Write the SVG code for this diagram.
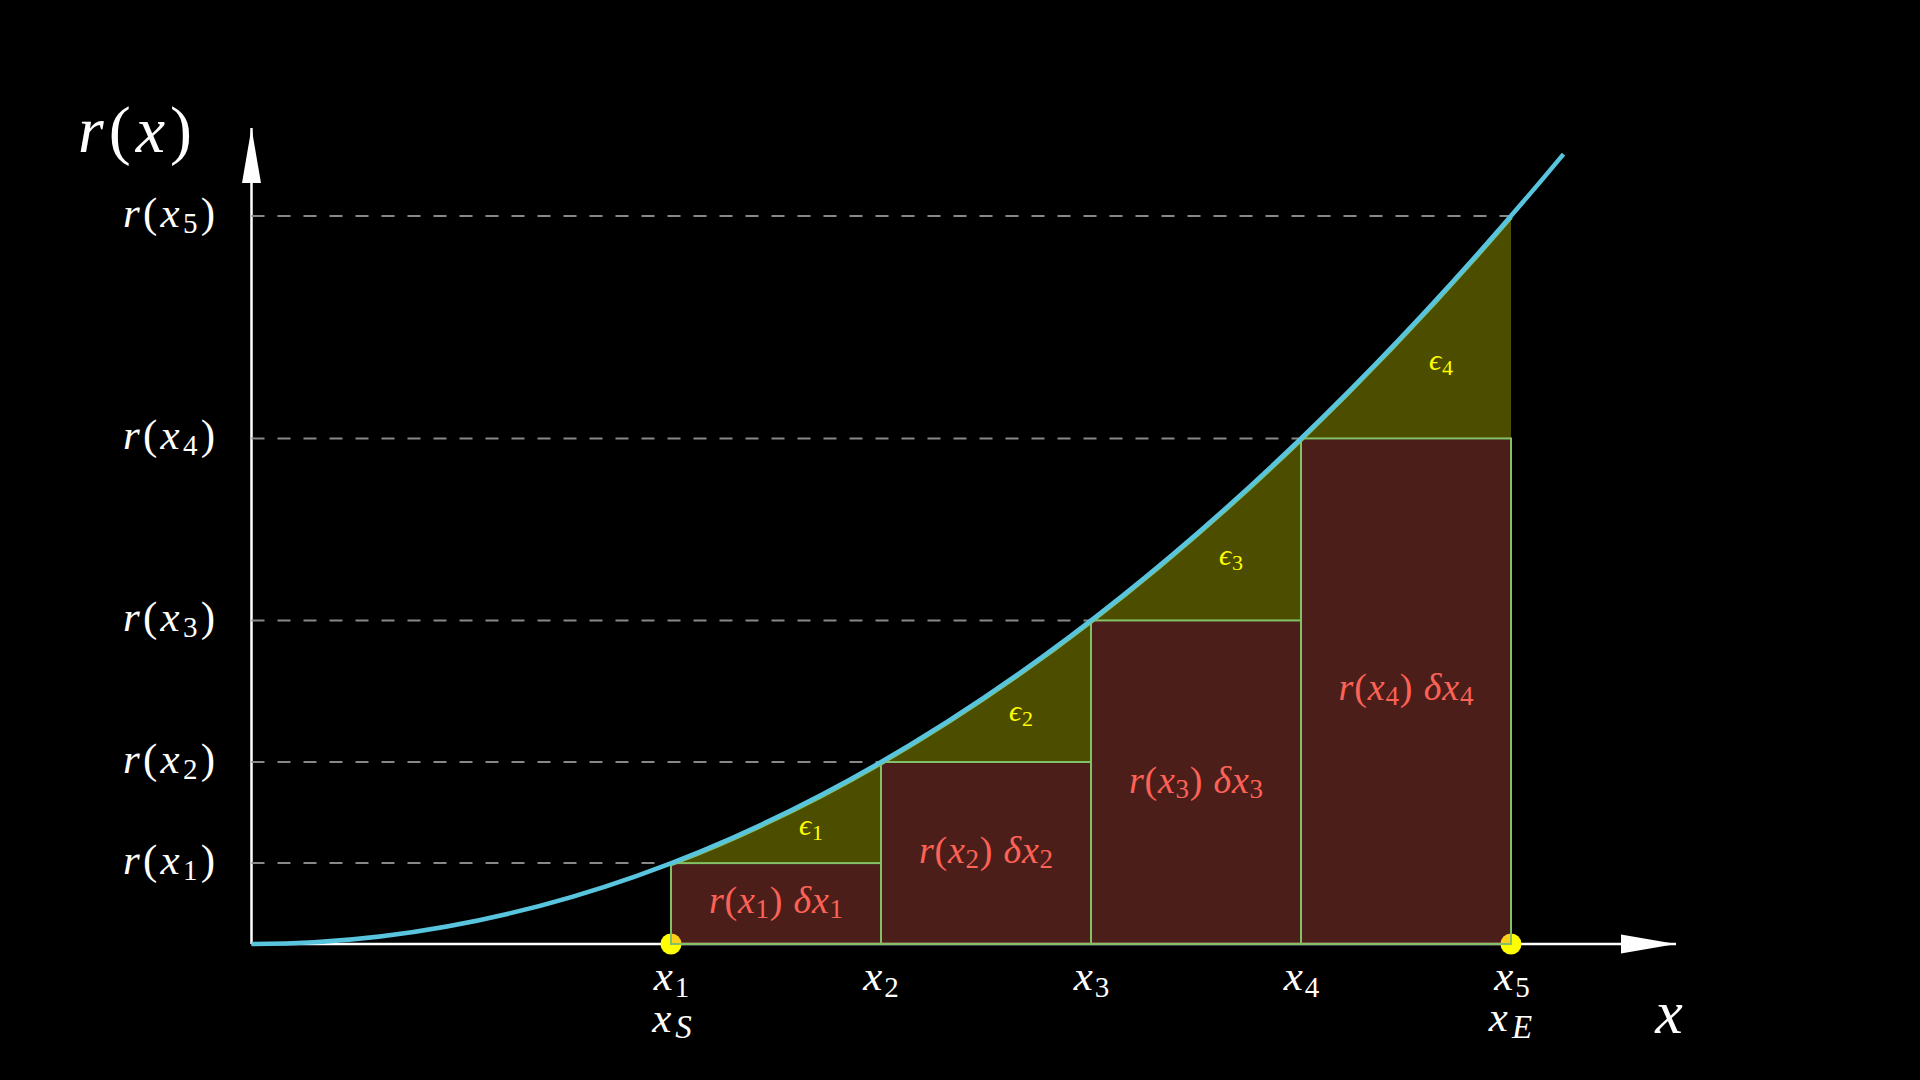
<svg xmlns="http://www.w3.org/2000/svg" width="1920" height="1080" viewBox="0 0 1920 1080">
  <style>
    .math { font-family: "Liberation Serif", "DejaVu Serif", serif; }
    .it { font-style: italic; }
    .w { fill: #FFFFFF; }
    .red { fill: #FC6255; }
    .yel { fill: #FFFF00; }
    .axis { stroke: #FFFFFF; stroke-width: 2.5; fill: none; }
    .guide { stroke: #888888; stroke-width: 2; stroke-dasharray: 13 13; fill: none; }
    .eps { fill: #FFFF00; fill-opacity: 0.3; stroke: none; }
    .bar { fill: #FC6255; fill-opacity: 0.3; stroke: #83C167; stroke-width: 2; }
    .dot { fill: #FFFF00; }
  </style>
  <defs>
    <marker id="arrow" viewBox="0 -10 56 20" refX="55" refY="0" markerWidth="56" markerHeight="20" markerUnits="userSpaceOnUse" orient="auto">
      <path d="M0,-9.5 L55,0 L0,9.5 Z" fill="#FFFFFF"/>
    </marker>
  </defs>
  <rect x="0" y="0" width="1920" height="1080" fill="#000000"/>

  <g id="connectors">
    <g id="axes">
      <line class="axis" x1="251.5" y1="944" x2="251.5" y2="128" marker-end="url(#arrow)"/>
      <line class="axis" x1="251.5" y1="944" x2="1676" y2="944" marker-end="url(#arrow)"/>
    </g>
    <g id="guides">
      <line class="guide" x1="251.5" y1="863.1" x2="671" y2="863.1"/>
      <line class="guide" x1="251.5" y1="762" x2="881" y2="762"/>
      <line class="guide" x1="251.5" y1="620.4" x2="1091" y2="620.4"/>
      <line class="guide" x1="251.5" y1="438.4" x2="1301" y2="438.4"/>
      <line class="guide" x1="251.5" y1="216" x2="1511" y2="216"/>
    </g>
  </g>

  <g id="endpoints">
    <circle class="dot" cx="671" cy="944" r="10.5"/>
    <circle class="dot" cx="1511" cy="944" r="10.5"/>
  </g>

  <g id="errors">
    <path id="eps1" class="eps" d="M671,863.11 Q776,822.67 881,762 L881,863.11 Z"/>
    <path id="eps2" class="eps" d="M881,762 Q986,701.33 1091,620.44 L1091,762 Z"/>
    <path id="eps3" class="eps" d="M1091,620.44 Q1196,539.56 1301,438.44 L1301,620.44 Z"/>
    <path id="eps4" class="eps" d="M1301,438.44 Q1406,337.33 1511,216 L1511,438.44 Z"/>
  </g>

  <g id="bars">
    <rect id="bar1" class="bar" x="671" y="863.11" width="210" height="80.89"/>
    <rect id="bar2" class="bar" x="881" y="762" width="210" height="182"/>
    <rect id="bar3" class="bar" x="1091" y="620.44" width="210" height="323.56"/>
    <rect id="bar4" class="bar" x="1301" y="438.44" width="210" height="505.56"/>
  </g>

  <g id="curve">
    <path d="M671,863.11 Q776,822.67 881,762 Q986,701.33 1091,620.44 Q1196,539.56 1301,438.44 Q1406,337.33 1511,216" fill="none" stroke="#83C167" stroke-width="2.5" transform="translate(0.8,1.8)"/>
    <path d="M251.5,944 Q907.25,944 1563.5,154.07" fill="none" stroke="#58C4DD" stroke-width="4.5"/>
  </g>

  <g id="axis-labels" class="w math" font-family="Liberation Serif, DejaVu Serif, serif">
    <text x="78" y="152" font-size="66" textLength="114" lengthAdjust="spacing"><tspan class="it">r</tspan>(<tspan class="it">x</tspan>)</text>
    <text x="1669" y="1033" font-size="62" text-anchor="middle" class="it">x</text>

    <text x="215" y="227" font-size="43" text-anchor="end" textLength="92" lengthAdjust="spacing"><tspan class="it">r</tspan>(<tspan class="it">x</tspan><tspan font-size="29" dy="6">5</tspan><tspan dy="-6">)</tspan></text>
    <text x="215" y="449.4" font-size="43" text-anchor="end" textLength="92" lengthAdjust="spacing"><tspan class="it">r</tspan>(<tspan class="it">x</tspan><tspan font-size="29" dy="6">4</tspan><tspan dy="-6">)</tspan></text>
    <text x="215" y="631.4" font-size="43" text-anchor="end" textLength="92" lengthAdjust="spacing"><tspan class="it">r</tspan>(<tspan class="it">x</tspan><tspan font-size="29" dy="6">3</tspan><tspan dy="-6">)</tspan></text>
    <text x="215" y="773" font-size="43" text-anchor="end" textLength="92" lengthAdjust="spacing"><tspan class="it">r</tspan>(<tspan class="it">x</tspan><tspan font-size="29" dy="6">2</tspan><tspan dy="-6">)</tspan></text>
    <text x="215" y="874.1" font-size="43" text-anchor="end" textLength="92" lengthAdjust="spacing"><tspan class="it">r</tspan>(<tspan class="it">x</tspan><tspan font-size="29" dy="6">1</tspan><tspan dy="-6">)</tspan></text>

    <text x="671.5" y="990" font-size="43" text-anchor="middle"><tspan class="it">x</tspan><tspan font-size="29" dx="2" dy="7">1</tspan></text>
    <text x="881" y="990" font-size="43" text-anchor="middle"><tspan class="it">x</tspan><tspan font-size="29" dx="2" dy="7">2</tspan></text>
    <text x="1091.5" y="990" font-size="43" text-anchor="middle"><tspan class="it">x</tspan><tspan font-size="29" dx="2" dy="7">3</tspan></text>
    <text x="1301.5" y="990" font-size="43" text-anchor="middle"><tspan class="it">x</tspan><tspan font-size="29" dx="2" dy="7">4</tspan></text>
    <text x="1512" y="990" font-size="43" text-anchor="middle"><tspan class="it">x</tspan><tspan font-size="29" dx="2" dy="7">5</tspan></text>

    <text x="672" y="1032" font-size="43" text-anchor="middle"><tspan class="it">x</tspan><tspan class="it" font-size="33" dx="4" dy="6">S</tspan></text>
    <text x="1510.5" y="1031" font-size="43" text-anchor="middle"><tspan class="it">x</tspan><tspan class="it" font-size="33" dx="4" dy="7">E</tspan></text>
  </g>

  <g id="bar-labels" class="red math" font-family="Liberation Serif, DejaVu Serif, serif">
    <text x="776" y="913" font-size="38" text-anchor="middle" textLength="134" lengthAdjust="spacing"><tspan class="it">r</tspan>(<tspan class="it">x</tspan><tspan font-size="27" dy="5">1</tspan><tspan dy="-5">)</tspan> <tspan class="it">δx</tspan><tspan font-size="27" dy="5">1</tspan></text>
    <text x="986" y="863" font-size="38" text-anchor="middle" textLength="134" lengthAdjust="spacing"><tspan class="it">r</tspan>(<tspan class="it">x</tspan><tspan font-size="27" dy="5">2</tspan><tspan dy="-5">)</tspan> <tspan class="it">δx</tspan><tspan font-size="27" dy="5">2</tspan></text>
    <text x="1196" y="793" font-size="38" text-anchor="middle" textLength="134" lengthAdjust="spacing"><tspan class="it">r</tspan>(<tspan class="it">x</tspan><tspan font-size="27" dy="5">3</tspan><tspan dy="-5">)</tspan> <tspan class="it">δx</tspan><tspan font-size="27" dy="5">3</tspan></text>
    <text x="1406" y="700" font-size="38" text-anchor="middle" textLength="135" lengthAdjust="spacing"><tspan class="it">r</tspan>(<tspan class="it">x</tspan><tspan font-size="27" dy="5">4</tspan><tspan dy="-5">)</tspan> <tspan class="it">δx</tspan><tspan font-size="27" dy="5">4</tspan></text>
  </g>

  <g id="error-labels" class="yel math" font-family="Liberation Serif, DejaVu Serif, serif">
    <text x="811" y="835" font-size="30" text-anchor="middle"><tspan class="it">ϵ</tspan><tspan font-size="22" dx="1" dy="5">1</tspan></text>
    <text x="1021" y="721" font-size="30" text-anchor="middle"><tspan class="it">ϵ</tspan><tspan font-size="22" dx="1" dy="5">2</tspan></text>
    <text x="1231" y="565" font-size="30" text-anchor="middle"><tspan class="it">ϵ</tspan><tspan font-size="22" dx="1" dy="5">3</tspan></text>
    <text x="1441" y="370" font-size="30" text-anchor="middle"><tspan class="it">ϵ</tspan><tspan font-size="22" dx="1" dy="5">4</tspan></text>
  </g>
</svg>
